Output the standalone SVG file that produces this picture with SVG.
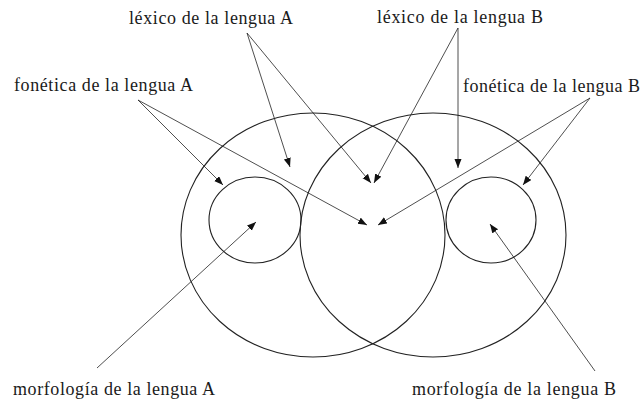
<svg xmlns="http://www.w3.org/2000/svg" width="641" height="401" viewBox="0 0 641 401">
<style>
.c{fill:none;stroke:#222;stroke-width:1.1}
.a{stroke:#222;stroke-width:0.8;fill:none;marker-end:url(#ah)}
.t{font-family:"Liberation Serif","Times New Roman",serif;font-size:18px;fill:#1a1a1a}
</style>
<defs>
<marker id="ah" markerUnits="userSpaceOnUse" markerWidth="10" markerHeight="8" refX="9" refY="3.5" orient="auto">
<path d="M0,0 L9,3.5 L0,7 z" fill="#111"/>
</marker>
</defs>
<rect width="641" height="401" fill="#fff"/>
<g id="lenguaA"><ellipse class="c" cx="313" cy="235" rx="132" ry="122"/></g>
<g id="lenguaB"><ellipse class="c" cx="433" cy="235" rx="133" ry="122"/></g>
<g id="circuloA"><ellipse class="c" cx="255" cy="220" rx="46" ry="43"/></g>
<g id="circuloB"><ellipse class="c" cx="491" cy="220" rx="45" ry="43"/></g>
<g id="connectors">
<line class="a" x1="247" y1="33" x2="290" y2="167"/>
<line class="a" x1="247" y1="33" x2="371" y2="183"/>
<line class="a" x1="458" y1="28" x2="374" y2="183"/>
<line class="a" x1="458" y1="28" x2="458" y2="168"/>
<line class="a" x1="138" y1="100" x2="223" y2="185"/>
<line class="a" x1="138" y1="100" x2="367" y2="225"/>
<line class="a" x1="590" y1="98" x2="523" y2="185"/>
<line class="a" x1="590" y1="98" x2="378" y2="225"/>
<line class="a" x1="97" y1="368" x2="256" y2="222"/>
<line class="a" x1="595" y1="371" x2="490" y2="224"/>
</g>
<g id="lexicoA"><text class="t" x="129" y="24" textLength="164" lengthAdjust="spacing">léxico de la lengua A</text></g>
<g id="lexicoB"><text class="t" x="377" y="23" textLength="166" lengthAdjust="spacing">léxico de la lengua B</text></g>
<g id="foneticaA"><text class="t" x="14" y="91" textLength="179" lengthAdjust="spacing">fonética de la lengua A</text></g>
<g id="foneticaB"><text class="t" x="463" y="92" textLength="177" lengthAdjust="spacing">fonética de la lengua B</text></g>
<g id="morfologiaA"><text class="t" x="13" y="395" textLength="202" lengthAdjust="spacing">morfología de la lengua A</text></g>
<g id="morfologiaB"><text class="t" x="412" y="395" textLength="204" lengthAdjust="spacing">morfología de la lengua B</text></g>
</svg>
